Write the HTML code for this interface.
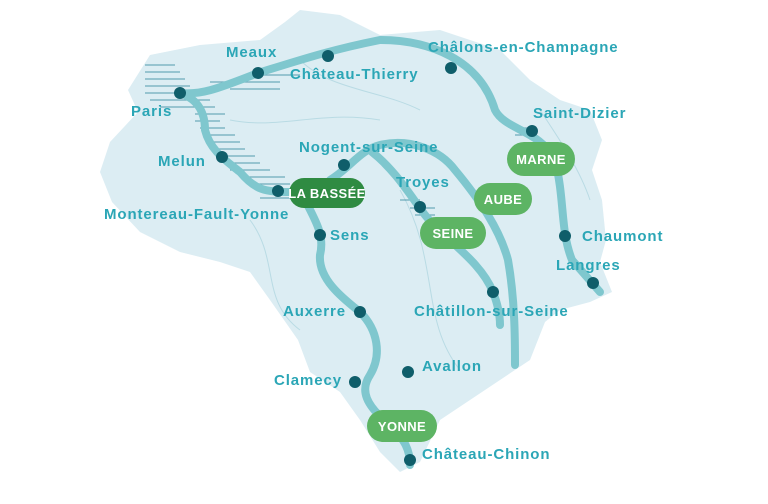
<!DOCTYPE html>
<html><head><meta charset="utf-8"><style>
body{margin:0;background:#fff;}
svg{display:block}
text{font-family:"Liberation Sans",sans-serif;font-weight:bold;}
.l{fill:#2ba6b6;font-size:15px;letter-spacing:0.9px;}
.p{fill:#fff;font-size:13px;text-anchor:middle;letter-spacing:0.4px;}
.r{fill:none;stroke:#7fc7ce;stroke-width:8;stroke-linecap:round;stroke-linejoin:round}
.t{fill:none;stroke:#b9dbe4;stroke-width:1}
</style></head><body>
<svg width="768" height="504" viewBox="0 0 768 504">
<path d="M150,55 L200,45 L260,40 L285,22 L300,10 L340,15 L380,35 L440,30 L500,50 L530,80 L560,100 L590,110 L602,140 L592,170 L602,200 L606,240 L600,262 L612,292 L590,302 L560,310 L545,322 L530,360 L500,380 L470,400 L440,420 L420,462 L400,472 L380,452 L360,420 L340,392 L310,372 L298,340 L270,300 L250,272 L220,262 L180,252 L140,232 L112,202 L100,172 L110,142 L138,112 L128,90 Z" fill="#dcedf3"/>
<path class="t" d="M230,120 C280,130 320,110 380,120 M250,220 C280,260 260,300 300,330 M400,190 C440,260 420,320 460,370 M540,110 C560,140 580,170 590,200 M300,60 C330,90 380,90 420,110"/>
<g fill="none" stroke="#3f8fa3" stroke-width="1.3" opacity="0.7">
<path d="M145,65h30M145,72h35M145,79h40M145,86h45M145,93h50M150,100h60M160,107h55M195,114h30M195,121h25M200,128h25M205,135h30M210,142h30M215,149h30M220,156h35M225,163h35M230,170h40M240,177h45M250,184h40M260,191h35M260,198h30M210,82h70M230,89h50M260,75h40M510,128h25M515,135h20M400,200h20M410,208h25M415,215h20"/>
</g>
<path class="r" d="M180,93 C200,95 215,90 258,73 C300,60 330,50 380,40 C430,40 480,60 495,110 C505,130 540,130 555,160 C565,200 560,230 572,260 L600,292"/>
<path class="r" d="M180,93 C200,100 205,115 205,130 C210,150 225,160 240,172 C255,190 265,192 290,192"/>
<path class="r" d="M330,180 C350,168 360,150 380,145 C410,138 440,150 455,170 C480,200 500,230 508,260 C515,300 515,340 515,365"/>
<path class="r" d="M372,152 C395,170 410,195 425,215 C445,240 480,260 493,292 C498,305 500,315 500,325"/>
<path class="r" d="M305,200 C315,220 325,235 320,255 C318,280 345,300 360,312 C378,330 382,355 370,375 C360,390 365,405 390,425 C405,440 410,450 410,465"/>
<g fill="#0f5e6a">
<circle cx="180" cy="93" r="6"/><circle cx="258" cy="73" r="6"/><circle cx="328" cy="56" r="6"/><circle cx="451" cy="68" r="6"/><circle cx="532" cy="131" r="6"/><circle cx="222" cy="157" r="6"/><circle cx="278" cy="191" r="6"/><circle cx="344" cy="165" r="6"/><circle cx="420" cy="207" r="6"/><circle cx="320" cy="235" r="6"/><circle cx="565" cy="236" r="6"/><circle cx="593" cy="283" r="6"/><circle cx="493" cy="292" r="6"/><circle cx="360" cy="312" r="6"/><circle cx="408" cy="372" r="6"/><circle cx="355" cy="382" r="6"/><circle cx="410" cy="460" r="6"/>
</g>
<rect x="289" y="178" width="76" height="30" rx="15" fill="#2f8b42"/><text class="p" x="327" y="198">LA BASSÉE</text>
<rect x="420" y="217" width="66" height="32" rx="16" fill="#5db464"/><text class="p" x="453" y="238">SEINE</text>
<rect x="474" y="183" width="58" height="32" rx="16" fill="#5db464"/><text class="p" x="503" y="204">AUBE</text>
<rect x="507" y="142" width="68" height="34" rx="17" fill="#5db464"/><text class="p" x="541" y="164">MARNE</text>
<rect x="367" y="410" width="70" height="32" rx="16" fill="#5db464"/><text class="p" x="402" y="431">YONNE</text>
<text class="l" x="226" y="57">Meaux</text>
<text class="l" x="290" y="79">Château-Thierry</text>
<text class="l" x="428" y="52">Châlons-en-Champagne</text>
<text class="l" x="131" y="116">Paris</text>
<text class="l" x="533" y="118">Saint-Dizier</text>
<text class="l" x="299" y="152">Nogent-sur-Seine</text>
<text class="l" x="158" y="166">Melun</text>
<text class="l" x="396" y="187">Troyes</text>
<text class="l" x="104" y="219">Montereau-Fault-Yonne</text>
<text class="l" x="330" y="240">Sens</text>
<text class="l" x="582" y="241">Chaumont</text>
<text class="l" x="556" y="270">Langres</text>
<text class="l" x="283" y="316">Auxerre</text>
<text class="l" x="414" y="316">Châtillon-sur-Seine</text>
<text class="l" x="422" y="371">Avallon</text>
<text class="l" x="274" y="385">Clamecy</text>
<text class="l" x="422" y="459">Château-Chinon</text>
</svg>
</body></html>
